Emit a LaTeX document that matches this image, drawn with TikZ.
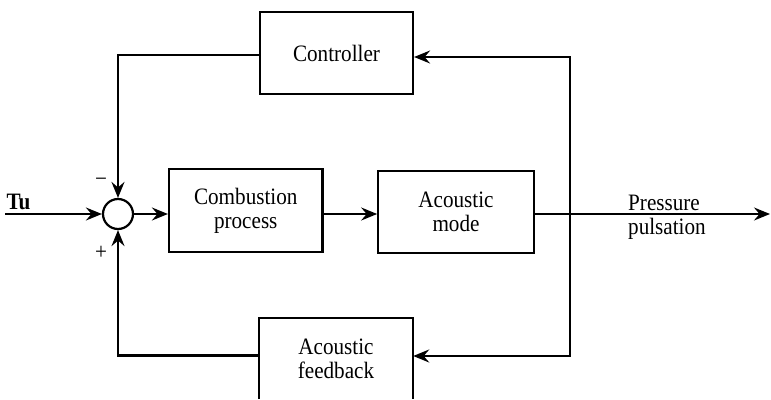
\documentclass[tikz,border=0pt]{standalone}
\usepackage{fontspec}
\setmainfont{Liberation Serif}[FakeStretch=0.9]
\usetikzlibrary{arrows.meta}
\begin{document}
\begin{tikzpicture}[x=1pt,y=-1pt,
  every node/.style={font=\fontsize{23.5}{24}\selectfont},
  box/.style={draw, line width=2.2pt, align=center, inner sep=0pt},
  wire/.style={line width=2.1pt},
  arr/.style={wire, -{Stealth[length=16pt,width=13pt,inset=5.5pt]}},
  lbl/.style={inner sep=0pt}]
\useasboundingbox (0,0) rectangle (771,399);
\node[box, minimum width=153pt, minimum height=82pt] (ctrl) at (336.5,53) {Controller};
\node[box, minimum width=153.5pt, minimum height=83pt] (comb) at (245.75,210.5) {Combustion\\process};
\node[box, minimum width=155.5pt, minimum height=82pt] (acm) at (456,212) {Acoustic\\mode};
\node[minimum width=154pt, minimum height=81pt, align=center, inner sep=0pt] (fb) at (336,358.5) {Acoustic\\feedback};
\draw[line width=2.2pt] (fb.south west) -- (fb.north west) -- (fb.north east) -- (fb.south east);
\node[circle, draw, line width=2.2pt, minimum size=30pt, inner sep=0pt] (sum) at (118,214) {};
\node[lbl] (tu) at (18.5,201.5) {\bfseries Tu};
\node[lbl] (minus) at (101,182) {−};
\node[lbl] (plus) at (101,253) {+};
\node[lbl, align=left, anchor=west] (outlbl) at (628,217) {Pressure\\pulsation};
\coordinate (in) at (5,214);
\coordinate (tap) at (570,214);
\coordinate (end) at (770,214);
\draw[arr] (in) -- (sum.west);
\draw[arr] (sum.east) -- (sum.east -| comb.west);
\draw[arr] (comb.east |- sum) -- (acm.west |- sum);
\draw[arr] (acm.east |- sum) -- (end);
\draw[arr] (tap) |- ([yshift=-4pt]ctrl.east);
\draw[arr] (tap) |- ([yshift=2.5pt]fb.east);
\draw[arr] ([yshift=-2pt]ctrl.west) -| (sum.north);
\draw[arr] ([yshift=3pt]fb.west) -| (sum.south);
\end{tikzpicture}
\end{document}
